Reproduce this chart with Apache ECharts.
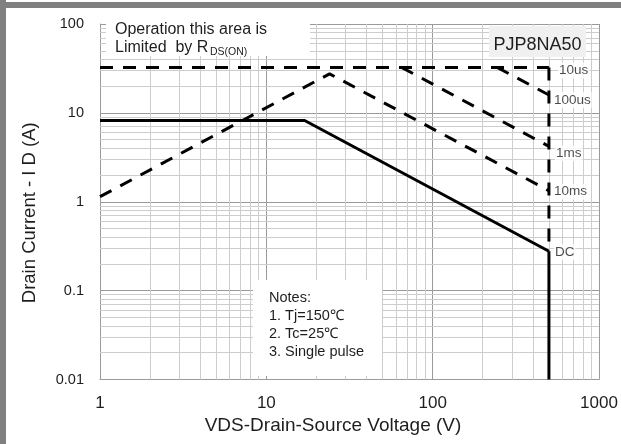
<!DOCTYPE html>
<html>
<head>
<meta charset="utf-8">
<script src="https://cdn.jsdelivr.net/npm/echarts@6/dist/echarts.min.js"></script>
<style>
html,body{margin:0;padding:0;background:#fff;}
#chart{width:621px;height:444px;}
</style>
</head>
<body>
<div id="chart"></div>
<script>
// ---- data ----
const xTicks = [1, 10, 100, 1000];
const yTicks = [0.01, 0.1, 1, 10, 100];
const minorMult = [2, 3, 4, 5, 6, 7, 8, 9];

// curves: VDS (V) and ID (A)
const us10V = [1, 500];        const us10I = [32.5, 32.5];
const us100V = [244, 500];     const us100I = [32.5, 15.9];
const ms1V = [65, 500];        const ms1I = [32.5, 4.2];
const ms10V = [1, 24, 500];    const ms10I = [1.14, 27.5, 1.33];
const dcV = [1, 17, 500];      const dcI = [8.2, 8.2, 0.277];
const limitV = [500, 500];     const limitI = [32.5, 0.277];
const dcLimitV = [500, 500];   const dcLimitI = [0.277, 0.01];

const curveLabels = ['10us', '100us', '1ms', '10ms', 'DC'];
const labelV = [500, 500, 500, 500, 500];
const labelI = [us10I[1], us100I[1], ms1I[1], ms10I[2], dcI[2]];

const notes = ['Notes:', '1. Tj=150\u2103', '2. Tc=25\u2103', '3. Single pulse'];

// ---- build ----
const zip = (a, b) => a.map((v, i) => [v, b[i]]);
const minorX = [];
xTicks.slice(0, -1).forEach(d => minorMult.forEach(m => minorX.push(d * m)));
const minorY = [];
yTicks.slice(0, -1).forEach(d => minorMult.forEach(m => minorY.push(d * m)));

const FONT = '"Liberation Sans", Arial, sans-serif';
const TXT = '#1e1e1e';
const fmt = v => String(+Number(v).toPrecision(3));

function dashed(data) {
  return {
    type: 'line', data: data, showSymbol: false, symbol: 'none', z: 3,
    lineStyle: { color: '#000', width: 3, type: [13, 10] }
  };
}
function solid(data) {
  return {
    type: 'line', data: data, showSymbol: false, symbol: 'none', z: 3,
    lineStyle: { color: '#000', width: 3, type: 'solid' }
  };
}
const labelOffsets = [[4, 3], [-1, 5], [1, 7], [-1, 1], [0, 1]];

const chart = echarts.init(document.getElementById('chart'), null, { renderer: 'canvas' });
chart.setOption({
  animation: false,
  backgroundColor: '#fff',
  grid: { left: 100, right: 22, top: 24, bottom: 64.5, containLabel: false, outerBoundsMode: 'none' },
  xAxis: {
    type: 'log', logBase: 10, min: xTicks[0], max: xTicks[xTicks.length - 1],
    axisLine: { show: true, lineStyle: { color: '#9a9a9a', width: 1 } },
    axisTick: { show: false },
    splitLine: { show: true, lineStyle: { color: '#9a9a9a', width: 1 } },
    axisLabel: { fontFamily: FONT, fontSize: 17, color: TXT, margin: 15, formatter: fmt },
    name: 'VDS-Drain-Source Voltage (V)',
    nameLocation: 'middle', nameGap: 36,
    nameTextStyle: { fontFamily: FONT, fontSize: 19, color: TXT, padding: [0, 33, 0, 0] }
  },
  yAxis: {
    type: 'log', logBase: 10, min: yTicks[0], max: yTicks[yTicks.length - 1],
    axisLine: { show: true, lineStyle: { color: '#9a9a9a', width: 1 } },
    axisTick: { show: false },
    splitLine: { show: true, lineStyle: { color: '#9a9a9a', width: 1 } },
    axisLabel: { fontFamily: FONT, fontSize: 14.5, color: TXT, margin: 16, formatter: fmt },
    name: 'Drain Current - I D (A)',
    nameLocation: 'middle', nameGap: 61,
    nameTextStyle: { fontFamily: FONT, fontSize: 18.5, color: TXT, padding: [0, 22, 0, 0] }
  },
  series: [
    {
      type: 'line', data: [], z: 1, silent: true,
      markLine: {
        silent: true, symbol: 'none', animation: false, z: 1,
        label: { show: false },
        lineStyle: { color: '#cdcdcd', width: 1, type: 'solid' },
        emphasis: { disabled: true },
        data: minorX.map(v => ({ xAxis: v })).concat(minorY.map(v => ({ yAxis: v })))
      }
    },
    dashed(zip(us10V, us10I)),
    dashed(zip(us100V, us100I)),
    dashed(zip(ms1V, ms1I)),
    dashed(zip(ms10V, ms10I)),
    dashed(zip(limitV, limitI)),
    solid(zip(dcV, dcI)),
    solid(zip(dcLimitV, dcLimitI)),
    {
      type: 'scatter', symbolSize: 0, z: 10, silent: true,
      data: curveLabels.map((t, i) => ({
        value: [labelV[i], labelI[i]], name: t,
        label: { offset: labelOffsets[i] }
      })),
      label: {
        show: true, position: 'right', distance: 5,
        formatter: p => p.name,
        fontFamily: FONT, fontSize: 13.5, color: TXT,
        backgroundColor: '#fff', padding: [1, 1, 1, 1]
      }
    }
  ],
  graphic: [
    { type: 'rect', z: 100, shape: { x: 0, y: 0, width: 6, height: 444 }, style: { fill: '#808080' } },
    { type: 'rect', z: 100, shape: { x: 0, y: 2, width: 621, height: 6 }, style: { fill: '#808080' } },
    { type: 'rect', z: 50, shape: { x: 106, y: 21, width: 204, height: 35 }, style: { fill: '#fff' } },
    { type: 'text', z: 51, x: 115, y: 30, style: { text: 'Operation this area is', fontFamily: FONT, fontSize: 16, fill: TXT, verticalAlign: 'middle' } },
    { type: 'text', z: 51, x: 115, y: 48, style: { text: 'Limited  by R', fontFamily: FONT, fontSize: 16, fill: TXT, verticalAlign: 'middle' } },
    { type: 'text', z: 51, x: 210, y: 52, style: { text: 'DS(ON)', fontFamily: FONT, fontSize: 10.5, fill: TXT, verticalAlign: 'middle' } },
    { type: 'rect', z: 50, shape: { x: 489, y: 26, width: 97, height: 31 }, style: { fill: '#f0f0f0' } },
    { type: 'text', z: 51, x: 537.5, y: 45, style: { text: 'PJP8NA50', fontFamily: FONT, fontSize: 18, fill: TXT, align: 'center', verticalAlign: 'middle' } },
    { type: 'rect', z: 50, shape: { x: 253, y: 280, width: 129, height: 96 }, style: { fill: '#fff' } }
  ].concat(notes.map((t, i) => ({
    type: 'text', z: 51, x: 269, y: 297.5 + i * 18.2,
    style: { text: t, fontFamily: FONT, fontSize: 14.5, fill: TXT, verticalAlign: 'middle' }
  })))
});
</script>
</body>
</html>
